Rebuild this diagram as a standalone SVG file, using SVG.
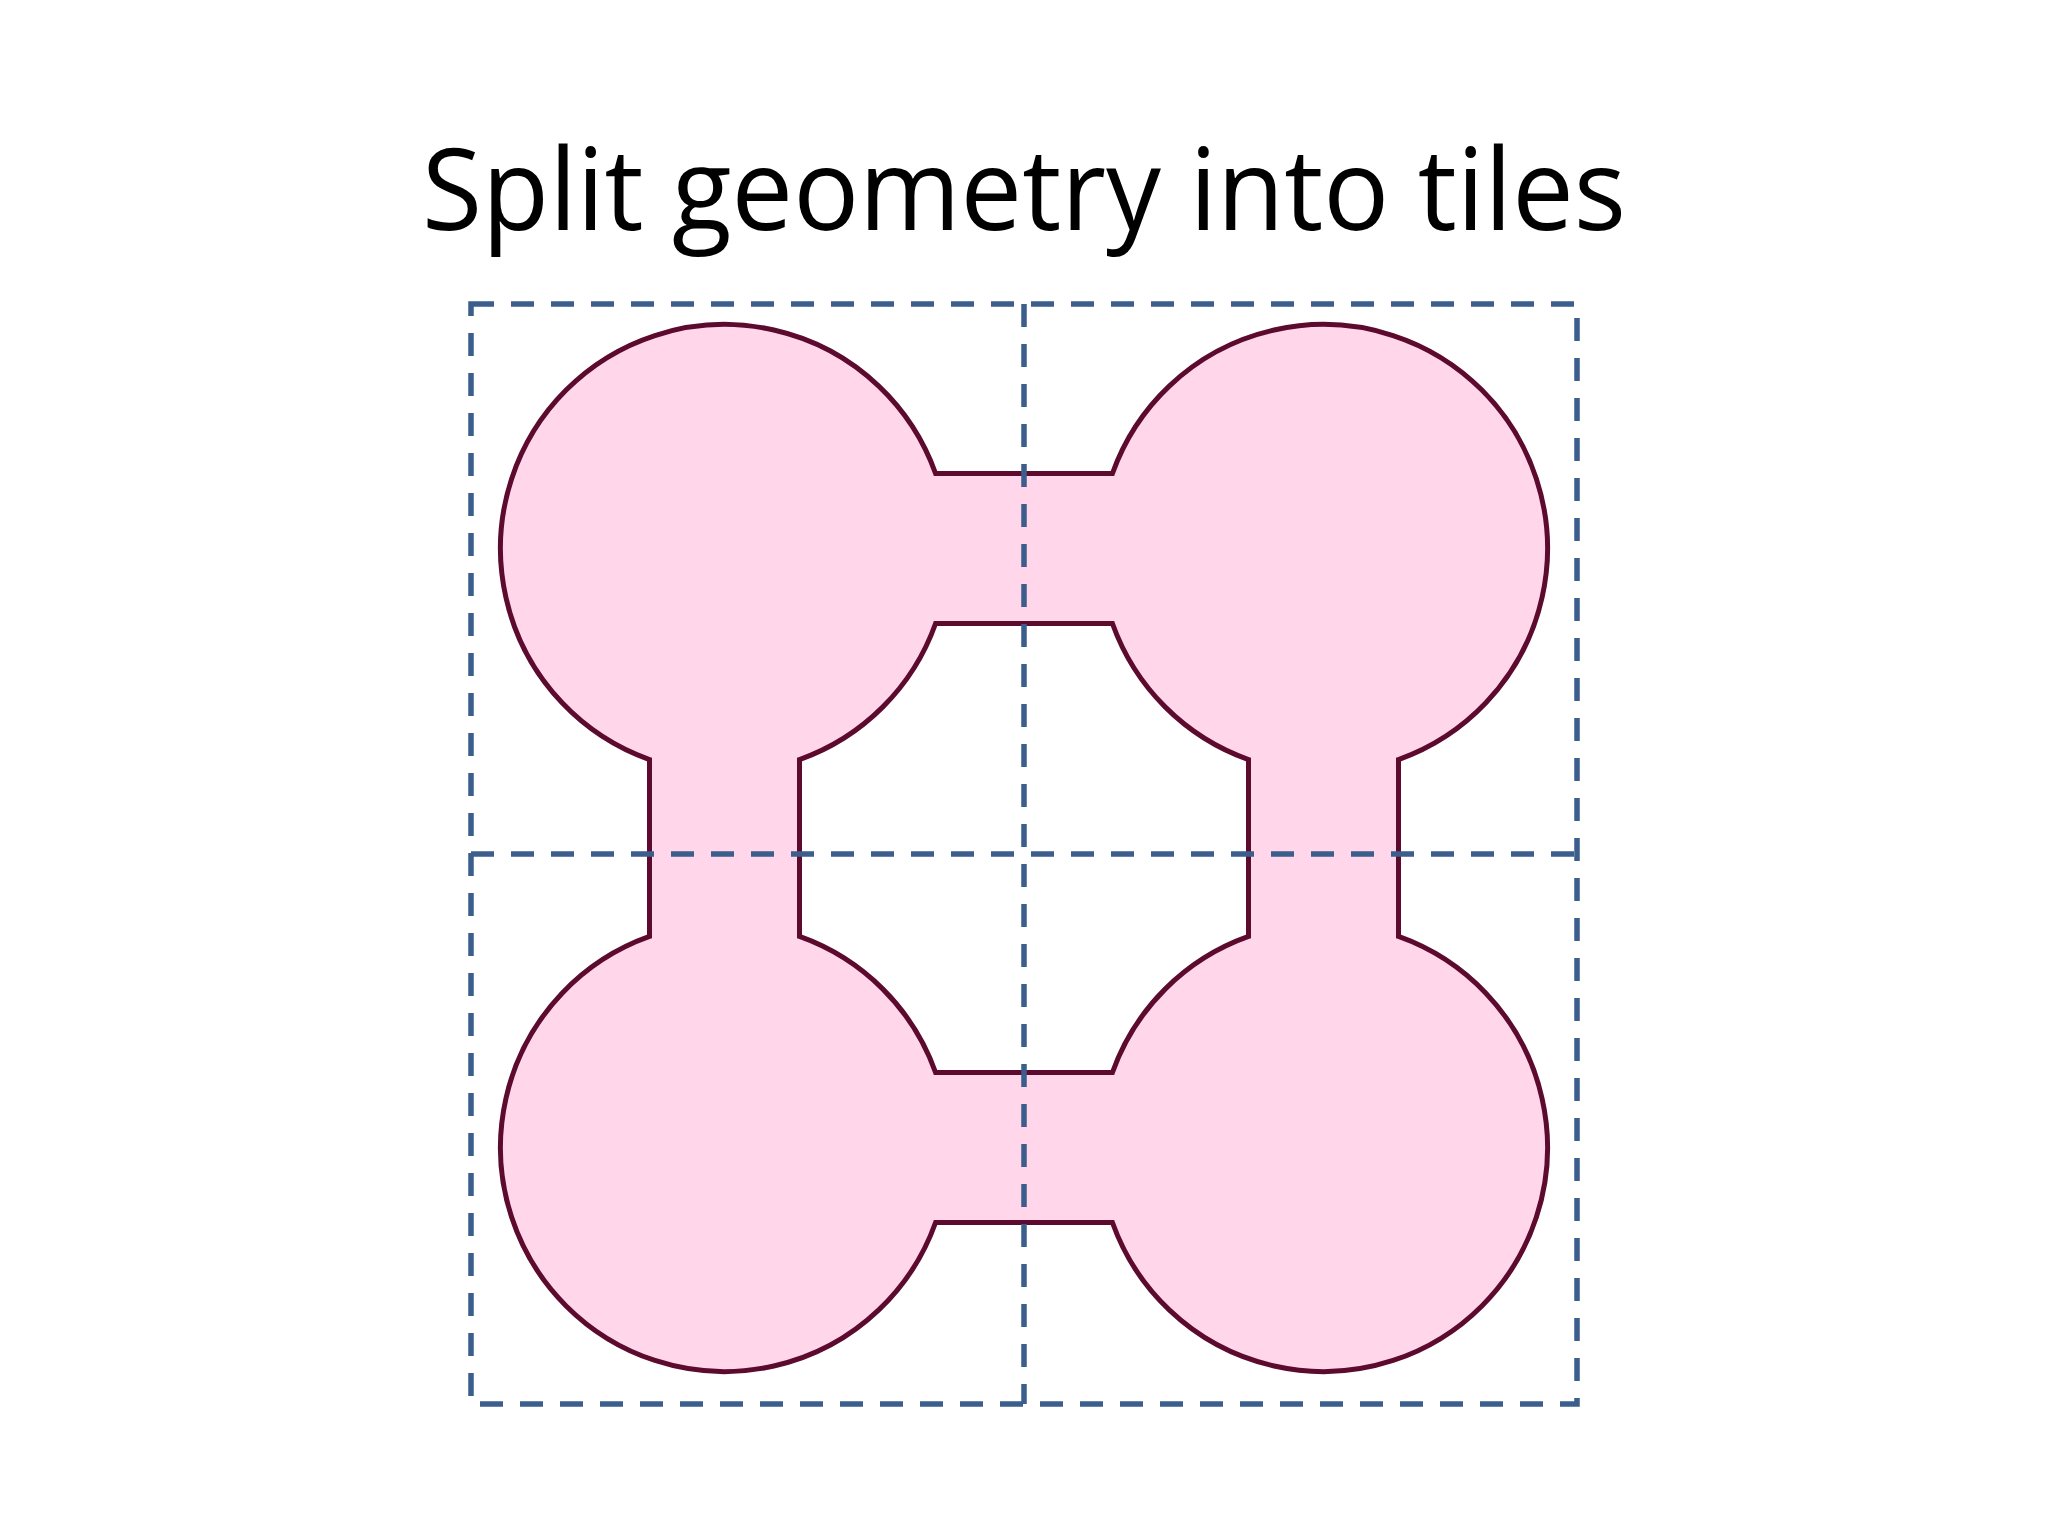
<svg xmlns="http://www.w3.org/2000/svg" width="2048" height="1536" viewBox="0 0 2048 1536">
<style>
.title{font-family:"Open Sans","Liberation Sans",sans-serif;font-size:114px;fill:#000}
.shape{fill:#FFD6EA;stroke:#5C0A2E;stroke-width:5;fill-rule:evenodd;stroke-linejoin:miter}
.tile{fill:none;stroke:#3B5E8C;stroke-width:5.5;stroke-dasharray:23 17}
</style>
<rect width="2048" height="1536" fill="#fff"/>
<g id="title"><text class="title" x="1024" y="230" text-anchor="middle" textLength="1204" lengthAdjust="spacingAndGlyphs">Split geometry into tiles</text></g>
<g id="geometry">
<path class="shape" d="M935.57,473.5 L1112.43,473.5 A224,224 0 1 1 1398.5,759.57 L1398.5,936.43 A224,224 0 1 1 1112.43,1222.5 L935.57,1222.5 A224,224 0 1 1 649.5,936.43 L649.5,759.57 A224,224 0 1 1 935.57,473.5 Z M935.57,623.5 L1112.43,623.5 A224,224 0 0 0 1248.5,759.57 L1248.5,936.43 A224,224 0 0 0 1112.43,1072.5 L935.57,1072.5 A224,224 0 0 0 799.5,936.43 L799.5,759.57 A224,224 0 0 0 935.57,623.5 Z"/>
</g>
<g id="tiles">
<rect class="tile" x="471" y="304" width="1106" height="1100"/>
<line class="tile" x1="1024" y1="304" x2="1024" y2="1404"/>
<line class="tile" x1="471" y1="854" x2="1577" y2="854"/>
</g>
</svg>
